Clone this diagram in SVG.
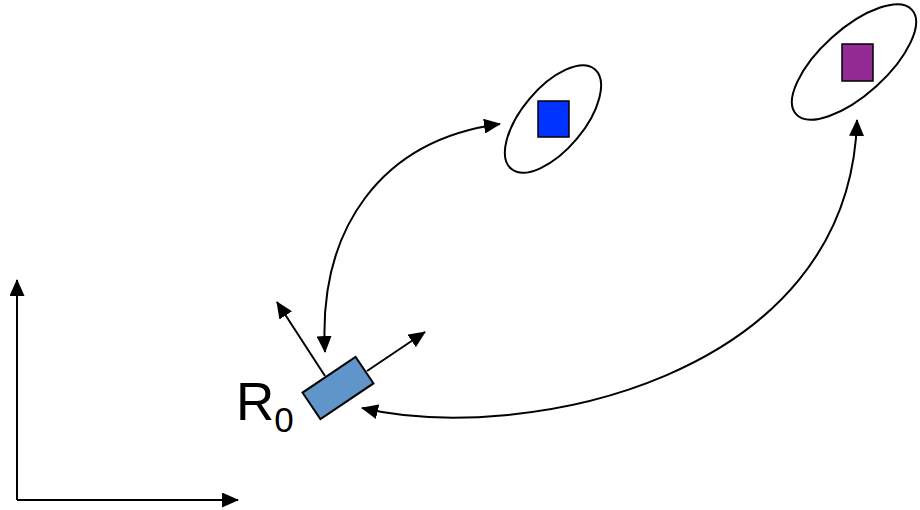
<svg xmlns="http://www.w3.org/2000/svg" width="920" height="510" viewBox="0 0 920 510">
<style>
.ln{fill:none;stroke:#000;stroke-width:2}
.ell{fill:none;stroke:#000;stroke-width:2}
.lbl{font-family:"Liberation Sans",Arial,sans-serif;fill:#000}
</style>
<defs>
<marker id="ah" markerWidth="17" markerHeight="15" refX="16" refY="7.5" orient="auto-start-reverse" markerUnits="userSpaceOnUse">
<path d="M0,0 L17,7.5 L0,15 Z" fill="#000"/>
</marker>
</defs>
<rect width="920" height="510" fill="#fff"/>
<g id="axes">
<path class="ln" d="M17,500 V280" marker-end="url(#ah)"/>
<path class="ln" d="M17,500 H238" marker-end="url(#ah)"/>
</g>
<g id="landmark1">
<ellipse class="ell" cx="553" cy="119" rx="65" ry="31" transform="rotate(-50 553 119)"/>
<rect x="538" y="101" width="31" height="36" fill="#0033ff" stroke="#000" stroke-width="1.5"/>
</g>
<g id="landmark2">
<ellipse class="ell" cx="854" cy="62" rx="78" ry="33" transform="rotate(-42 854 62)"/>
<rect x="842" y="44" width="31" height="37" fill="#922b93" stroke="#000" stroke-width="1.5"/>
</g>
<g id="robot">
<path class="ln" d="M325,376 L277,302" marker-end="url(#ah)"/>
<path class="ln" d="M367,371 L425,332" marker-end="url(#ah)"/>
<rect x="306" y="372" width="64" height="32" fill="#5f95c8" stroke="#000" stroke-width="2" transform="rotate(-34 338 388)"/>
<text class="lbl" x="236" y="420" font-size="53">R<tspan font-size="35" dy="12">0</tspan></text>
</g>
<g id="connectors">
<path class="ln" d="M325,352 C318,230 380,140 500,124" marker-start="url(#ah)" marker-end="url(#ah)"/>
<path class="ln" d="M362,408 C520,445 850,380 857,120" marker-start="url(#ah)" marker-end="url(#ah)"/>
</g>
</svg>
